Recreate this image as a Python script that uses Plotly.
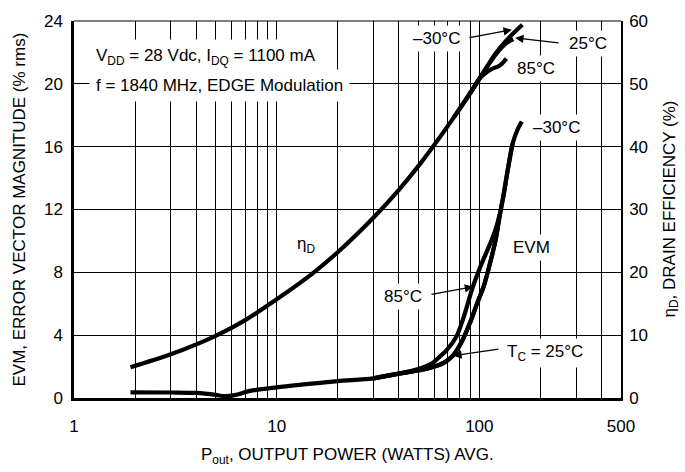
import math
import plotly.graph_objects as go

# ---------------- data ----------------
# Drain efficiency (%), right axis
eff_p_common = [1.9, 3, 5, 7, 10, 15, 20, 30, 40, 50, 60, 75, 90, 100]
eff_common = [4.9, 6.95, 9.9, 12.4, 15.7, 19.8, 23.2, 28.7, 33.1, 36.9, 40.3, 44.7, 48.5, 50.8]
eff_p_m30 = [110, 120, 135, 150, 163]
eff_m30 = [52.9, 54.8, 56.8, 58.3, 59.4]
eff_p_25 = [110, 122, 135, 147]
eff_25 = [52.9, 54.9, 56.4, 57.1]
eff_p_85 = [106, 114, 126, 136]
eff_85 = [51.6, 52.3, 52.9, 54.0]

# EVM (% rms), left axis
evm_p_common = [1.9, 3, 4, 5, 5.5, 6.2, 7.4, 10, 14, 20, 30, 40]
evm_common = [0.36, 0.35, 0.32, 0.2, 0.12, 0.18, 0.45, 0.68, 0.88, 1.08, 1.25, 1.55]
evm_p_85 = [50, 59, 64, 69, 77, 83, 93, 103, 112, 120, 126]
evm_85 = [1.85, 2.25, 2.65, 3.05, 3.9, 5.0, 7.1, 8.6, 9.7, 10.7, 11.7]
evm_p_25 = [50, 60, 67, 74, 82, 90, 98, 105, 112, 120, 126, 132, 138, 146]
evm_25 = [1.75, 2.0, 2.25, 2.7, 3.6, 4.8, 6.1, 7.1, 8.4, 10.0, 11.6, 13.0, 14.5, 16.2]
evm_p_m30 = [50, 60, 67, 74, 82, 90, 98, 105, 112, 120, 126, 132, 138, 146, 154, 162]
evm_m30 = [1.75, 2.0, 2.25, 2.7, 3.6, 4.8, 6.1, 7.1, 8.4, 10.0, 11.6, 13.0, 14.5, 16.2, 17.05, 17.6]

# axis ticks / grid
x_grid = [1, 2, 3, 4, 5, 6, 7, 8, 9, 10, 20, 30, 40, 50, 60, 70, 80, 90, 100, 200, 300, 400, 500]
x_labels = {1: "1", 10: "10", 100: "100", 500: "500"}
y_left_ticks = [0, 4, 8, 12, 16, 20, 24]
y_right_ticks = [0, 10, 20, 30, 40, 50, 60]

FONT = "Liberation Sans, Arial, sans-serif"
FS = 17

fig = go.Figure()

def line(px, py, yaxis):
    fig.add_trace(go.Scatter(x=px, y=py, mode="lines", yaxis=yaxis,
                             line=dict(color="black", width=4.2, shape="spline", smoothing=0.9),
                             showlegend=False, hoverinfo="skip"))

line(eff_p_common + eff_p_m30, eff_common + eff_m30, "y2")
line(eff_p_common[-2:] + eff_p_25, eff_common[-2:] + eff_25, "y2")
line(eff_p_common[-3:] + eff_p_85, eff_common[-3:] + eff_85, "y2")
line(evm_p_common + evm_p_85, evm_common + evm_85, "y")
line(evm_p_common[-2:] + evm_p_25, evm_common[-2:] + evm_25, "y")
line(evm_p_common[-2:] + evm_p_m30, evm_common[-2:] + evm_m30, "y")

L = math.log10
ann = []

def text(t, p, v, yref="y", xanchor="center"):
    ann.append(dict(text=t, x=L(p), y=v, xref="x", yref=yref, showarrow=False,
                    xanchor=xanchor, yanchor="middle", bgcolor="white", borderpad=3,
                    font=dict(family=FONT, size=FS, color="black")))

def arrow(p_tip, v_tip, p_tail, v_tail, yref="y"):
    ann.append(dict(text="", x=L(p_tip), y=v_tip, ax=L(p_tail), ay=v_tail,
                    xref="x", yref=yref, axref="x", ayref=yref, showarrow=True,
                    arrowhead=2, arrowsize=1.3, arrowwidth=1.3, arrowcolor="black",
                    standoff=0, startstandoff=0))

# condition text block
ann.append(dict(text="V<sub>DD</sub> = 28 Vdc, I<sub>DQ</sub> = 1100 mA", x=L(1.19), y=21.68,
                xref="x", yref="y", showarrow=False, xanchor="left", yanchor="middle",
                bgcolor="white", borderpad=6, font=dict(family=FONT, size=FS, color="black")))
ann.append(dict(text="f = 1840 MHz, EDGE Modulation", x=L(1.19), y=19.92,
                xref="x", yref="y", showarrow=False, xanchor="left", yanchor="middle",
                bgcolor="white", borderpad=6, font=dict(family=FONT, size=FS, color="black")))

text("–30°C", 61.8, 57.2, "y2")
text("25°C", 343, 56.4, "y2")
text("85°C", 190, 52.5, "y2")
text("–30°C", 241.5, 17.2)
text("EVM", 181.8, 9.59)
text("η<sub>D</sub>", 13.95, 9.77)
text("85°C", 42, 6.45)
text("T<sub>C</sub> = 25°C", 210.7, 2.88)

arrow(144.8, 58.6, 87.9, 57.3, "y2")
arrow(150, 57.3, 250, 56.5, "y2")
arrow(93.3, 7.08, 57.1, 6.58)
arrow(74.3, 2.69, 126.4, 3.13)

# axis titles
ann.append(dict(text="P<sub>out</sub>, OUTPUT POWER (WATTS) AVG.", xref="paper", yref="paper",
                x=0.5, y=-0.154, showarrow=False, xanchor="center", yanchor="middle",
                font=dict(family=FONT, size=FS, color="black")))
ann.append(dict(text="EVM, ERROR VECTOR MAGNITUDE (% rms)", xref="paper", yref="paper",
                x=-0.1005, y=0.5, showarrow=False, textangle=-90, xanchor="center", yanchor="middle",
                font=dict(family=FONT, size=FS, color="black")))
ann.append(dict(text="η<sub>D</sub>, DRAIN EFFICIENCY (%)", xref="paper", yref="paper",
                x=1.0896, y=0.5, showarrow=False, textangle=-90, xanchor="center", yanchor="middle",
                font=dict(family=FONT, size=FS, color="black")))

fig.update_layout(
    width=685, height=472,
    margin=dict(l=74, r=64, t=15, b=74, pad=0),
    paper_bgcolor="white", plot_bgcolor="white",
    font=dict(family=FONT, size=FS, color="black"),
    annotations=ann,
    shapes=[dict(type="line", xref="paper", yref="paper", x0=0, x1=1, y0=1, y1=1,
                 line=dict(color="black", width=1))],
    xaxis=dict(type="log", range=[0, L(500)], tickvals=x_grid,
               ticktext=[x_labels.get(v, "") for v in x_grid],
               showgrid=True, gridcolor="black", gridwidth=1,
               showline=True, linecolor="black", linewidth=2.5,
               ticks="", ticklabelstandoff=11, zeroline=False,
               tickfont=dict(family=FONT, size=FS, color="black")),
    yaxis=dict(range=[0, 24], tickvals=y_left_ticks, showgrid=True, gridcolor="black", gridwidth=1,
               showline=True, linecolor="black", linewidth=2.5, ticks="", ticklabelstandoff=5,
               zeroline=False, tickfont=dict(family=FONT, size=FS, color="black")),
    yaxis2=dict(range=[0, 60], tickvals=y_right_ticks, overlaying="y", side="right",
                showgrid=False, showline=True, linecolor="black", linewidth=1.5,
                ticks="", ticklabelstandoff=3, zeroline=False,
                tickfont=dict(family=FONT, size=FS, color="black")),
)

fig.write_html("out.html")
